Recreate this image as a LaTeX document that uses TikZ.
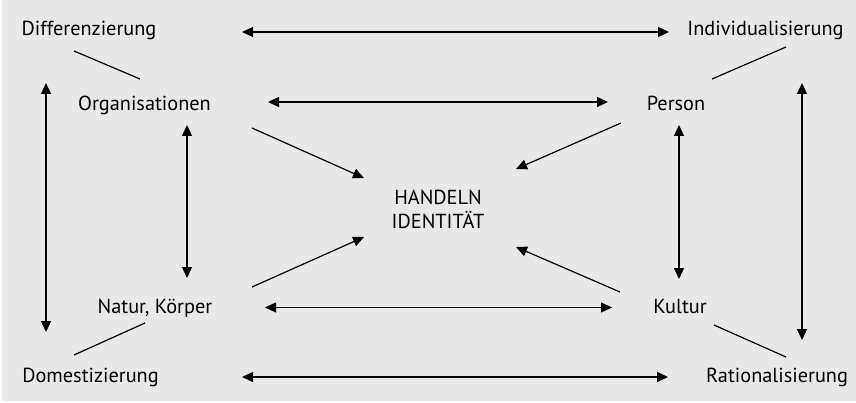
\documentclass[tikz,border=0pt]{standalone}
\usepackage{fontspec}
\setmainfont{PT Sans}
\usetikzlibrary{arrows.meta}
\definecolor{panelgray}{RGB}{232,232,232}
\tikzset{
	term/.style={anchor=base, inner sep=0pt, font=\fontsize{20.3}{24}\selectfont},
	link/.style={line width=1.2pt},
	twoway/.style={link, {Triangle[length=11pt,width=10pt]}-{Triangle[length=11pt,width=10pt]}},
	oneway/.style={link, -{Triangle[length=11pt,width=10pt]}}
}

\begin{document}
\begin{tikzpicture}[x=1pt, y=1pt]
			%%%%% START %%%%%
			
			\useasboundingbox (0,0) rectangle (856,402);
			\fill[panelgray] (2,1) rectangle (856,402);
			
			\node[term] (diff) at (89,366) {Differenzierung};
			\node[term] (indiv) at (765.5,366) {Individualisierung};
			\node[term] (org) at (144.5,291) {Organisationen};
			\node[term] (person) at (676,291) {Person};
			\node[term, anchor=center, align=center] (handeln) at (438,193) {HANDELN\\IDENTITÄT};
			\node[term] (natur) at (155,89) {Natur, Körper};
			\node[term] (kultur) at (680,89) {Kultur};
			\node[term] (domest) at (90.5,20) {Domestizierung};
			\node[term] (ratio) at (777,20) {Rationalisierung};
			
			\draw[twoway] ([shift={(153,4)}]diff.base) -- ([shift={(-96.5,4)}]indiv.base);
			\draw[twoway] ([shift={(123.5,9)}]org.base) -- ([shift={(-68,9)}]person.base);
			\draw[twoway] ([shift={(110,5.5)}]natur.base) -- ([shift={(-68,5.5)}]kultur.base);
			\draw[twoway] ([shift={(151.5,5)}]domest.base) -- ([shift={(-109,5)}]ratio.base);
			
			\draw[twoway] ([shift={(-43,-47)}]diff.base) -- ([shift={(-44.5,50)}]domest.base);
			\draw[twoway] ([shift={(36.5,-47)}]indiv.base) -- ([shift={(25,42)}]ratio.base);
			\draw[twoway] ([shift={(42.5,-14)}]org.base) -- ([shift={(32,35)}]natur.base);
			\draw[twoway] ([shift={(3,-14)}]person.base) -- ([shift={(-1,34)}]kultur.base);
			
			\draw[oneway] ([shift={(107.5,-17)}]org.base) -- ([shift={(-74,31)}]handeln.center);
			\draw[oneway] ([shift={(97,26)}]natur.base) -- ([shift={(-74,-28)}]handeln.center);
			\draw[oneway] ([shift={(-55,-12)}]person.base) -- ([shift={(78,40)}]handeln.center);
			\draw[oneway] ([shift={(-60,21)}]kultur.base) -- ([shift={(78,-38)}]handeln.center);
			
			\draw[link] ([shift={(-15,-15)}]diff.base) -- ([shift={(-4.5,32)}]org.base);
			\draw[link] ([shift={(20.5,-11)}]indiv.base) -- ([shift={(36,32)}]person.base);
			\draw[link] ([shift={(-10,-10)}]natur.base) -- ([shift={(-16.5,27)}]domest.base);
			\draw[link] ([shift={(34,-12)}]kultur.base) -- ([shift={(9,25)}]ratio.base);
			
			%%%%% END %%%%%
\end{tikzpicture}
\end{document}
